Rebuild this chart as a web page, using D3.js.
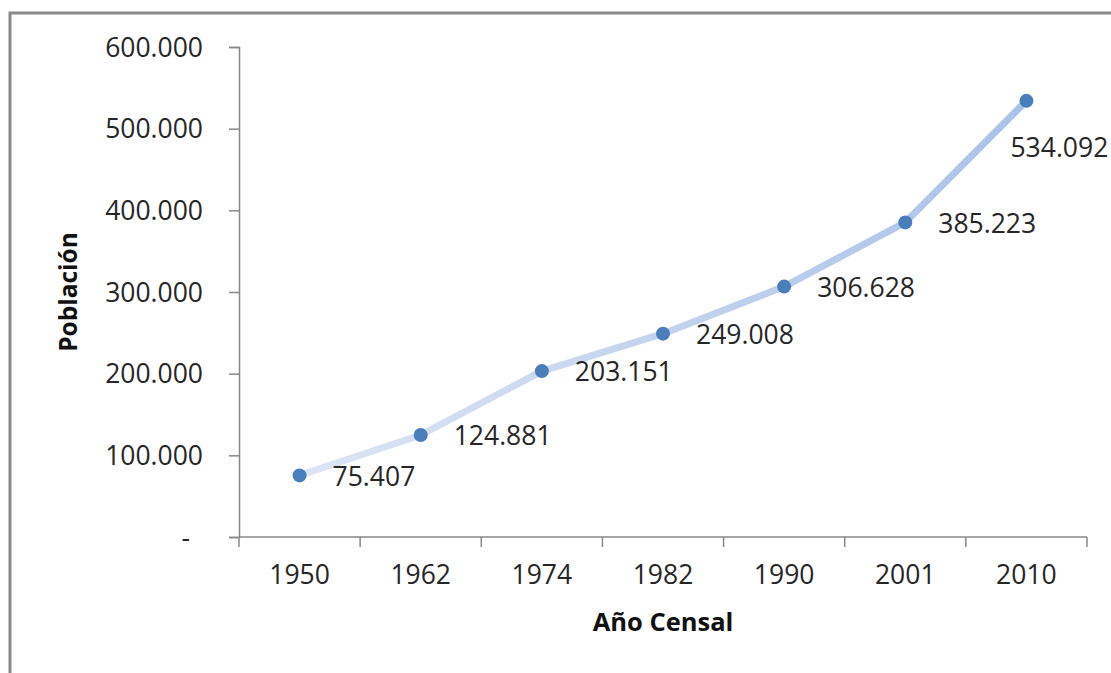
<!DOCTYPE html>
<html>
<head>
<meta charset="utf-8">
<script src="https://cdn.jsdelivr.net/npm/d3@7"></script>
<style>
body { margin: 0; background: #fff; }
text { font-family: "Open Sans", sans-serif; fill: #262626; }
</style>
</head>
<body>
<div id="chart"></div>
<script>
var years = ["1950", "1962", "1974", "1982", "1990", "2001", "2010"],
	poblacion = [75407, 124881, 203151, 249008, 306628, 385223, 534092],
	yTicks = [0, 100000, 200000, 300000, 400000, 500000, 600000];

var W = 1111, H = 673,
	plotLeft = 239, plotRight = 1087,
	plotTop = 47, plotBottom = 537;

var es = d3.formatLocale({decimal: ",", thousands: ".", grouping: [3], currency: ["", ""]});
var fmt = es.format(",d");

var svg = d3.select("#chart").append("svg")
	.attr("width", W)
	.attr("height", H);

// outer frame (cut off on the right and bottom)
svg.append("rect")
	.attr("x", 10).attr("y", 13)
	.attr("width", W + 20).attr("height", H + 20)
	.style("fill", "none")
	.style("stroke", "#8a8a8a")
	.style("stroke-width", 3);

var x = d3.scaleBand().domain(years).range([plotLeft, plotRight]).padding(0);
var y = d3.scaleLinear().domain([0, 600000]).range([plotBottom, plotTop]);

// y axis
var yAxis = svg.append("g")
	.attr("transform", "translate(" + plotLeft + ",0)")
	.call(d3.axisLeft(y).tickValues(yTicks).tickSize(10).tickPadding(26)
		.tickFormat(function(d) { return d == 0 ? "-" : fmt(d); }));
yAxis.selectAll("text")
	.style("font-size", "26.5px")
	.attr("dy", "0.35em")
	.attr("dx", function(d) { return d == 0 ? -13 : 0; });

// x axis with ticks on band edges
var xAxis = svg.append("g").attr("class", "xaxis");
xAxis.append("line")
	.attr("x1", plotLeft).attr("x2", plotRight)
	.attr("y1", y(0)).attr("y2", y(0));
xAxis.selectAll(".xt")
	.data(years.map(function(d) { return x(d); }).concat([x.range()[1]]))
	.enter().append("line")
	.attr("class", "xt")
	.attr("x1", function(d) { return d; }).attr("x2", function(d) { return d; })
	.attr("y1", y(0)).attr("y2", y(0) + 10);
xAxis.selectAll(".xl")
	.data(years)
	.enter().append("text")
	.attr("x", function(d) { return x(d) + x.bandwidth() / 2; })
	.attr("y", y(0) + 38)
	.attr("dy", "0.35em")
	.attr("text-anchor", "middle")
	.style("font-size", "26.5px")
	.text(function(d) { return d; });

svg.selectAll(".domain, .tick line, .xaxis line")
	.style("stroke", "#888")
	.style("stroke-width", 1.5);

// axis titles
svg.append("text")
	.attr("x", (plotLeft + plotRight) / 2)
	.attr("y", 622)
	.attr("dy", "0.35em")
	.attr("text-anchor", "middle")
	.style("font-size", "25.5px")
	.style("font-weight", "bold")
	.style("fill", "#111")
	.text("Año Censal");

svg.append("text")
	.attr("transform", "translate(68," + ((plotTop + plotBottom) / 2) + ") rotate(-90)")
	.attr("dy", "0.35em")
	.attr("text-anchor", "middle")
	.style("font-size", "24.5px")
	.style("font-weight", "bold")
	.style("fill", "#111")
	.text("Población");

// line with pale-to-darker gradient
var grad = svg.append("defs").append("linearGradient")
	.attr("id", "lineGrad")
	.attr("gradientUnits", "userSpaceOnUse")
	.attr("x1", x(years[0])).attr("x2", x(years[years.length - 1]) + x.bandwidth())
	.attr("y1", 0).attr("y2", 0);
grad.append("stop").attr("offset", "0%").attr("stop-color", "#e0e8f5");
grad.append("stop").attr("offset", "100%").attr("stop-color", "#a6bfe7");

var pts = years.map(function(d, i) {
	return {year: d, value: poblacion[i]};
});

var line = d3.line()
	.x(function(d) { return x(d.year) + x.bandwidth() / 2; })
	.y(function(d) { return y(d.value); });

svg.append("path")
	.datum(pts)
	.attr("d", line)
	.style("fill", "none")
	.style("stroke", "url(#lineGrad)")
	.style("stroke-width", 7)
	.style("stroke-linejoin", "round")
	.style("stroke-linecap", "round");

svg.selectAll(".pt")
	.data(pts)
	.enter().append("circle")
	.attr("class", "pt")
	.attr("cx", function(d) { return x(d.year) + x.bandwidth() / 2; })
	.attr("cy", function(d) { return y(d.value); })
	.attr("r", 7)
	.style("fill", "#4a7ebb");

// data labels: right of point, last one below
svg.selectAll(".lbl")
	.data(pts)
	.enter().append("text")
	.attr("class", "lbl")
	.attr("x", function(d, i) {
		var cx = x(d.year) + x.bandwidth() / 2;
		return i == pts.length - 1 ? cx - 16 : cx + 33;
	})
	.attr("y", function(d, i) {
		return y(d.value) + (i == pts.length - 1 ? 47 : 1);
	})
	.attr("dy", "0.35em")
	.style("font-size", "26.5px")
	.text(function(d) { return fmt(d.value); });
</script>
</body>
</html>
